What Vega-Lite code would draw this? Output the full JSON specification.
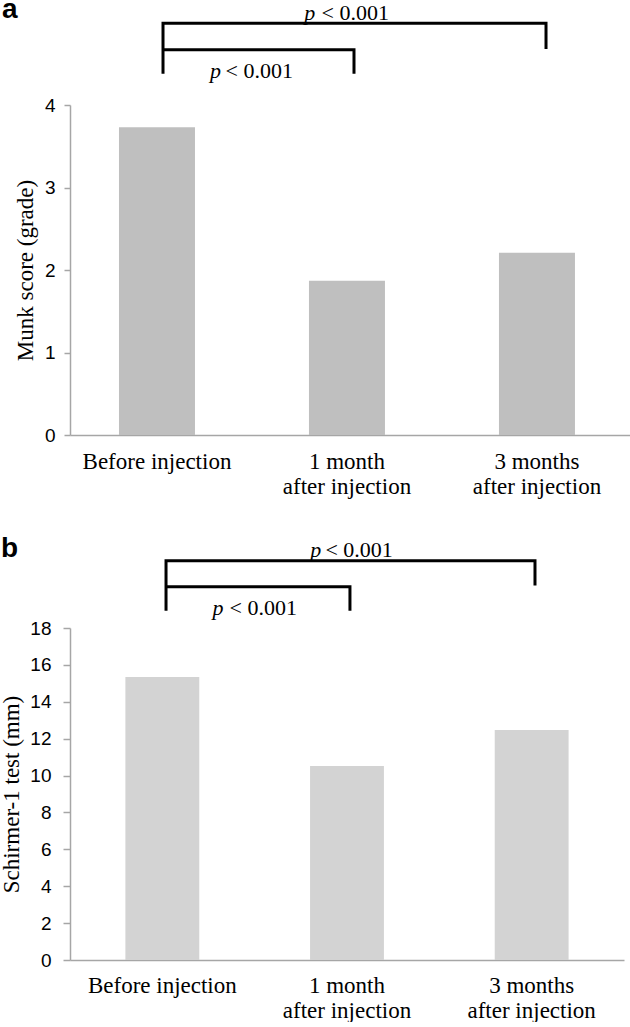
{
  "$schema": "https://vega.github.io/schema/vega-lite/v6.json",
  "background": "white",
  "padding": {"left": 0, "top": -4, "right": 0, "bottom": 0},
  "spacing": 37,
  "config": {
    "view": {"stroke": null},
    "axis": {"grid": false, "domainColor": "#a6a6a6", "tickColor": "#a6a6a6", "labelColor": "#000000", "titleColor": "#000000", "domainWidth": 1.5, "tickWidth": 1.5, "labelOverlap": false},
    "title": {"font": "Liberation Sans", "fontSize": 28, "fontWeight": "bold", "anchor": "start", "frame": "group", "color": "#000000"}
  },
  "datasets": {
    "munk": [
      {"group": "Before injection", "value": 3.73},
      {"group": "1 month after injection", "value": 1.87},
      {"group": "3 months after injection", "value": 2.21}
    ],
    "schirmer": [
      {"group": "Before injection", "value": 15.35},
      {"group": "1 month after injection", "value": 10.52},
      {"group": "3 months after injection", "value": 12.47}
    ],
    "annA": [
      {"kind": "bracket", "bracket": "outer", "step": 1, "pos": 0.4965, "value": 4.38},
      {"kind": "bracket", "bracket": "outer", "step": 2, "pos": 0.4965, "value": 4.99},
      {"kind": "bracket", "bracket": "outer", "step": 3, "pos": 2.541, "value": 4.99},
      {"kind": "bracket", "bracket": "outer", "step": 4, "pos": 2.541, "value": 4.68},
      {"kind": "bracket", "bracket": "inner", "step": 1, "pos": 0.4965, "value": 4.67},
      {"kind": "bracket", "bracket": "inner", "step": 2, "pos": 1.516, "value": 4.67},
      {"kind": "bracket", "bracket": "inner", "step": 3, "pos": 1.516, "value": 4.38},
      {"kind": "p", "label": "p", "pos": 0.747, "value": 4.33},
      {"kind": "rest", "label": "< 0.001", "pos": 0.83, "value": 4.33},
      {"kind": "p", "label": "p", "pos": 1.251, "value": 5.026},
      {"kind": "rest", "label": "< 0.001", "pos": 1.343, "value": 5.026}
    ],
    "annB": [
      {"kind": "bracket", "bracket": "outer", "step": 1, "pos": 0.52, "value": 18.94},
      {"kind": "bracket", "bracket": "outer", "step": 2, "pos": 0.52, "value": 21.65},
      {"kind": "bracket", "bracket": "outer", "step": 3, "pos": 2.518, "value": 21.65},
      {"kind": "bracket", "bracket": "outer", "step": 4, "pos": 2.518, "value": 20.3},
      {"kind": "bracket", "bracket": "inner", "step": 1, "pos": 0.52, "value": 20.24},
      {"kind": "bracket", "bracket": "inner", "step": 2, "pos": 1.516, "value": 20.24},
      {"kind": "bracket", "bracket": "inner", "step": 3, "pos": 1.516, "value": 18.94},
      {"kind": "p", "label": "p", "pos": 0.772, "value": 18.71},
      {"kind": "rest", "label": "< 0.001", "pos": 0.864, "value": 18.71},
      {"kind": "p", "label": "p", "pos": 1.301, "value": 21.85},
      {"kind": "rest", "label": "< 0.001", "pos": 1.383, "value": 21.85}
    ]
  },
  "vconcat": [
    {
      "width": 562,
      "height": 330,
      "title": {"text": "a", "dx": -68, "offset": -22},
      "resolve": {"scale": {"x": "independent"}},
      "encoding": {
        "y": {"field": "value", "type": "quantitative", "title": "Munk score (grade)",
          "scale": {"domain": [0, 4], "nice": false},
          "axis": {"values": [0, 1, 2, 3, 4], "format": "d", "titleFont": "Liberation Serif", "titleFontSize": 23, "titleFontWeight": "normal", "labelFont": "Liberation Sans", "labelFontSize": 19, "tickSize": 6, "labelPadding": 9, "titlePadding": 7}}
      },
      "layer": [
        {
          "data": {"name": "munk"},
          "mark": {"type": "bar", "color": "#bfbfbf"},
          "encoding": {
            "x": {"field": "group", "type": "nominal", "sort": null,
              "scale": {"paddingInner": 0.6, "paddingOuter": 0.279, "align": 0.462},
              "axis": {"title": null, "labelAngle": 0, "ticks": false, "labelFont": "Liberation Serif", "labelFontSize": 23, "labelPadding": 15, "labelLineHeight": 25, "labelBaseline": "top",
                "labelExpr": "split(replace(datum.label, ' after', '\\nafter'), '\\n')"}}
          }
        },
        {
          "data": {"name": "annA"},
          "transform": [{"filter": "datum.kind == 'bracket'"}],
          "mark": {"type": "line", "color": "#000000", "strokeWidth": 3, "strokeJoin": "miter", "strokeCap": "butt"},
          "encoding": {
            "x": {"field": "pos", "type": "quantitative", "scale": {"domain": [0, 3], "nice": false, "zero": false}, "axis": null},
            "detail": {"field": "bracket"},
            "order": {"field": "step"}
          }
        },
        {
          "data": {"name": "annA"},
          "transform": [{"filter": "datum.kind == 'p'"}],
          "mark": {"type": "text", "font": "Liberation Serif", "fontSize": 22, "fontStyle": "italic", "align": "left", "baseline": "alphabetic", "color": "#000000"},
          "encoding": {
            "x": {"field": "pos", "type": "quantitative", "scale": {"domain": [0, 3], "nice": false, "zero": false}, "axis": null},
            "text": {"field": "label"}
          }
        },
        {
          "data": {"name": "annA"},
          "transform": [{"filter": "datum.kind == 'rest'"}],
          "mark": {"type": "text", "font": "Liberation Serif", "fontSize": 22, "align": "left", "baseline": "alphabetic", "color": "#000000"},
          "encoding": {
            "x": {"field": "pos", "type": "quantitative", "scale": {"domain": [0, 3], "nice": false, "zero": false}, "axis": null},
            "text": {"field": "label"}
          }
        }
      ]
    },
    {
      "width": 554,
      "height": 332,
      "title": {"text": "b", "dx": -69, "offset": -24.5},
      "resolve": {"scale": {"x": "independent"}},
      "encoding": {
        "y": {"field": "value", "type": "quantitative", "title": "Schirmer-1 test (mm)",
          "scale": {"domain": [0, 18], "nice": false},
          "axis": {"values": [0, 2, 4, 6, 8, 10, 12, 14, 16, 18], "format": "d", "titleFont": "Liberation Serif", "titleFontSize": 23, "titleFontWeight": "normal", "labelFont": "Liberation Sans", "labelFontSize": 19, "tickSize": 7, "labelPadding": 12, "titlePadding": 6}}
      },
      "layer": [
        {
          "data": {"name": "schirmer"},
          "mark": {"type": "bar", "color": "#d3d3d3"},
          "encoding": {
            "x": {"field": "group", "type": "nominal", "sort": null,
              "scale": {"paddingInner": 0.6, "paddingOuter": 0.3},
              "axis": {"title": null, "labelAngle": 0, "ticks": false, "labelFont": "Liberation Serif", "labelFontSize": 23, "labelPadding": 14, "labelLineHeight": 25, "labelBaseline": "top",
                "labelExpr": "split(replace(datum.label, ' after', '\\nafter'), '\\n')"}}
          }
        },
        {
          "data": {"name": "annB"},
          "transform": [{"filter": "datum.kind == 'bracket'"}],
          "mark": {"type": "line", "color": "#000000", "strokeWidth": 3, "strokeJoin": "miter", "strokeCap": "butt"},
          "encoding": {
            "x": {"field": "pos", "type": "quantitative", "scale": {"domain": [0, 3], "nice": false, "zero": false}, "axis": null},
            "detail": {"field": "bracket"},
            "order": {"field": "step"}
          }
        },
        {
          "data": {"name": "annB"},
          "transform": [{"filter": "datum.kind == 'p'"}],
          "mark": {"type": "text", "font": "Liberation Serif", "fontSize": 22, "fontStyle": "italic", "align": "left", "baseline": "alphabetic", "color": "#000000"},
          "encoding": {
            "x": {"field": "pos", "type": "quantitative", "scale": {"domain": [0, 3], "nice": false, "zero": false}, "axis": null},
            "text": {"field": "label"}
          }
        },
        {
          "data": {"name": "annB"},
          "transform": [{"filter": "datum.kind == 'rest'"}],
          "mark": {"type": "text", "font": "Liberation Serif", "fontSize": 22, "align": "left", "baseline": "alphabetic", "color": "#000000"},
          "encoding": {
            "x": {"field": "pos", "type": "quantitative", "scale": {"domain": [0, 3], "nice": false, "zero": false}, "axis": null},
            "text": {"field": "label"}
          }
        }
      ]
    }
  ]
}
